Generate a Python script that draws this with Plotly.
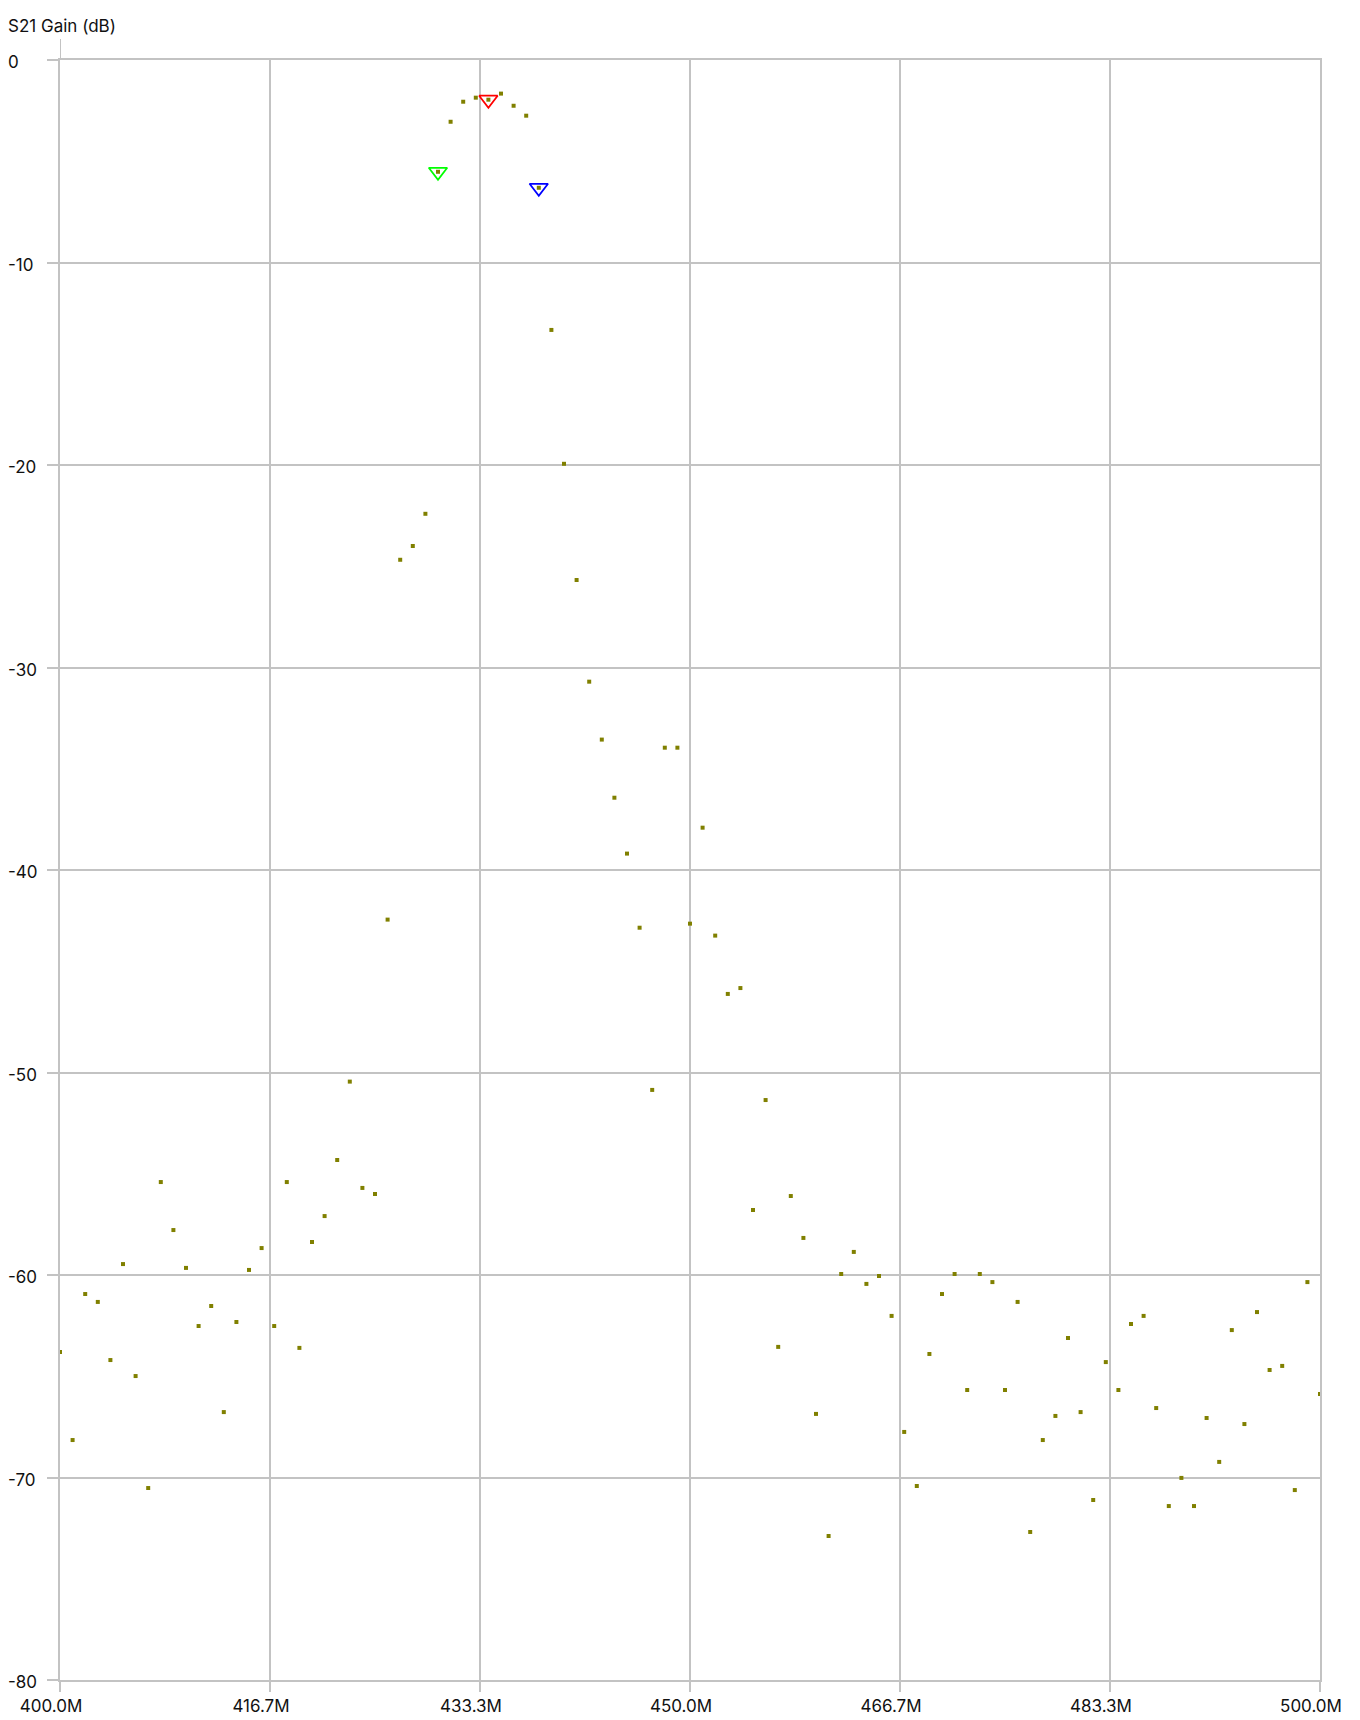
import plotly.graph_objects as go

# ---- data ----
freq_mhz = list(range(400, 501))  # one sweep point per MHz
gain_db = [
    -63.80, -68.15, -60.94, -61.33, -64.20, -59.46, -64.99, -70.52, -55.41, -57.78,
    -59.65, -62.52, -61.53, -66.77, -62.32, -59.75, -58.67, -62.52, -55.41, -63.60,
    -58.37, -57.09, -54.32, -50.45, -55.70, -56.00, -42.45, -24.68, -24.00, -22.41,
    -5.52, -3.05, -2.06, -1.86, -1.96, -1.66, -2.26, -2.75, -6.31, -13.33,
    -19.94, -25.68, -30.70, -33.56, -36.43, -39.19, -42.85, -50.86, -33.96, -33.96,
    -42.65, -37.91, -43.24, -46.12, -45.83, -56.79, -51.36, -63.55, -56.10, -58.17,
    -66.86, -72.89, -59.95, -58.86, -60.44, -60.05, -62.02, -67.75, -70.42, -63.90,
    -60.94, -59.95, -65.68, -59.95, -60.35, -65.68, -61.33, -72.69, -68.15, -66.96,
    -63.11, -66.77, -71.11, -64.30, -65.68, -62.42, -62.02, -66.57, -71.41, -70.02,
    -71.41, -67.06, -69.23, -62.72, -67.36, -61.83, -64.69, -64.49, -70.62, -60.35,
    -65.88,
]
marker_freqs = [430, 434, 438]
marker_colors = ["#00ff00", "#ff0000", "#0000ff"]

x_tickvals = [400.0, 416.667, 433.333, 450.0, 466.667, 483.333, 500.0]
x_ticktext = ["400.0M", "416.7M", "433.3M", "450.0M", "466.7M", "483.3M", "500.0M"]
y_tickvals = [0, -10, -20, -30, -40, -50, -60, -70, -80]
y_ticktext = ["0", "-10", "-20", "-30", "-40", "-50", "-60", "-70", "-80"]
y_title = "S21 Gain (dB)"

# ---- figure ----
FONT = "Inter, Liberation Sans, Arial, sans-serif"
GRID = "#c3c3c3"
TXT = "#111111"
W, H = 1360, 1720
ML, MR, MT, MB = 60, 40, 60, 40
PW, PH = W - ML - MR, H - MT - MB

fig = go.Figure()

marker_y = [gain_db[freq_mhz.index(f)] for f in marker_freqs]
fig.add_trace(go.Scatter(
    x=marker_freqs, y=marker_y, mode="markers",
    marker=dict(symbol="triangle-down-open", size=16, color=marker_colors,
                line=dict(width=1.8, color=marker_colors)),
    hoverinfo="skip", showlegend=False,
))
fig.add_trace(go.Scatter(
    x=freq_mhz, y=gain_db, mode="markers",
    marker=dict(symbol="square", size=4, color="#808000", line=dict(width=0)),
    showlegend=False,
))

fig.update_xaxes(
    range=[400, 500], tickmode="array", tickvals=x_tickvals, ticktext=x_ticktext,
    showgrid=True, gridcolor=GRID, gridwidth=2,
    ticks="outside", ticklen=10, tickwidth=2, tickcolor=GRID,
    showline=True, linecolor=GRID, linewidth=2, mirror=True,
    zeroline=False, ticklabelshift=-9, ticklabelstandoff=0, automargin=False,
    tickfont=dict(family=FONT, size=17, color=TXT),
)
fig.update_yaxes(
    range=[-80, 0], tickmode="array", tickvals=y_tickvals,
    showticklabels=False,
    showgrid=True, gridcolor=GRID, gridwidth=2,
    ticks="outside", ticklen=11, tickwidth=2, tickcolor=GRID,
    showline=True, linecolor=GRID, linewidth=2, mirror=True,
    zeroline=False, automargin=False,
)

annotations = []
for v, t in zip(y_tickvals, y_ticktext):
    annotations.append(dict(
        x=(6 - ML) / PW, xref="paper", xanchor="left",
        y=v, yref="y", yanchor="middle", yshift=-2,
        text=t, showarrow=False,
        font=dict(family=FONT, size=17, color=TXT),
    ))
annotations.append(dict(
    x=(6 - ML) / PW, xref="paper", xanchor="left",
    y=1 + (MT - 26) / PH, yref="paper", yanchor="middle",
    text=y_title, showarrow=False,
    font=dict(family=FONT, size=17, color=TXT),
))

fig.update_layout(
    width=W, height=H, autosize=False,
    margin=dict(l=ML, r=MR, t=MT, b=MB, pad=0, autoexpand=False),
    paper_bgcolor="white", plot_bgcolor="white",
    annotations=annotations,
    shapes=[dict(type="line", xref="x", x0=400, x1=400, yref="paper",
                 y0=1, y1=1 + 21 / PH, line=dict(color=GRID, width=2))],
)

fig.write_html(
    "out.html",
    config={"displayModeBar": False},
    post_script="document.body.style.margin='0';document.body.style.overflow='hidden';",
)
